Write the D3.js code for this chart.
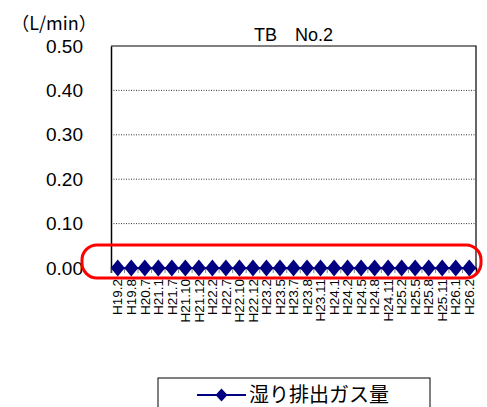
<!DOCTYPE html>
<html>
<head>
<meta charset="utf-8">
<script src="https://cdnjs.cloudflare.com/ajax/libs/d3/7.8.5/d3.min.js"></script>
<style>
  body { margin: 0; background: #fff; }
  svg { display: block; font-family: "Liberation Sans", Arial, sans-serif; }
</style>
</head>
<body>
<div id="chart"></div>
<script>
const categories = [
  "H19.2", "H19.8", "H20.7", "H21.1", "H21.7", "H21.10", "H21.12",
  "H22.2", "H22.7", "H22.10", "H22.12", "H23.2", "H23.5", "H23.7",
  "H23.8", "H23.11", "H24.1", "H24.2", "H24.5", "H24.8", "H24.11",
  "H25.2", "H25.5", "H25.8", "H25.11", "H26.1", "H26.2",
];
const gasValues = [
  0, 0, 0, 0, 0, 0, 0, 0, 0, 0, 0, 0, 0, 0,
  0, 0, 0, 0, 0, 0, 0, 0, 0, 0, 0, 0, 0,
];
const yTicks = [0, 0.1, 0.2, 0.3, 0.4, 0.5];
const seriesName = "湿り排出ガス量";
const chartTitle = "TB\u3000No.2";
const unitLabel = "（L/min）";

const width = 487,
  height = 407,
  margin = { top: 46, right: 11, bottom: 139, left: 111 },
  navy = "#000080";

const svg = d3
  .select("#chart")
  .append("svg")
  .attr("width", width)
  .attr("height", height);

const xScale = d3
  .scaleBand()
  .domain(categories)
  .range([margin.left, width - margin.right]);

const yScale = d3
  .scaleLinear()
  .domain([0, 0.5])
  .range([height - margin.bottom, margin.top]);

// dotted grid lines
svg
  .append("g")
  .selectAll("line")
  .data(yTicks.filter((d) => d > 0 && d < 0.5))
  .join("line")
  .attr("x1", margin.left)
  .attr("x2", width - margin.right)
  .attr("y1", (d) => yScale(d))
  .attr("y2", (d) => yScale(d))
  .attr("stroke", "#000")
  .attr("stroke-width", 0.8)
  .attr("stroke-dasharray", "1,1.5");

// plot frame (top + right)
svg
  .append("path")
  .attr(
    "d",
    `M${margin.left},${yScale(0.5)}H${width - margin.right}V${yScale(0)}`
  )
  .attr("fill", "none")
  .attr("stroke", "#000")
  .attr("stroke-width", 1.2);

// y axis
const yAxis = svg
  .append("g")
  .attr("transform", `translate(${margin.left},0)`)
  .call(
    d3
      .axisLeft(yScale)
      .tickValues(yTicks)
      .tickSize(0)
      .tickPadding(28)
      .tickFormat(d3.format(".2f"))
  );
yAxis.select(".domain").attr("stroke", "#000").attr("stroke-width", 1.5);
yAxis
  .selectAll("text")
  .attr("font-size", 19)
  .attr("fill", "#000")
  .attr("font-family", "Liberation Sans, Arial, sans-serif");

// x axis
const xAxis = svg
  .append("g")
  .attr("transform", `translate(0,${yScale(0)})`)
  .call(d3.axisBottom(xScale).tickSize(5).tickPadding(4));
xAxis.select(".domain").attr("stroke", "#000").attr("stroke-width", 1.5);
xAxis
  .selectAll(".tick line")
  .attr("stroke", "#888")
  .attr("x1", -xScale.bandwidth() / 2)
  .attr("x2", -xScale.bandwidth() / 2);
xAxis
  .selectAll(".tick text")
  .attr("font-size", 13.5)
  .attr("fill", "#000")
  .attr("font-family", "Liberation Sans, Arial, sans-serif")
  .attr("transform", "rotate(-90)")
  .attr("text-anchor", "end")
  .attr("x", -11)
  .attr("y", 0)
  .attr("dy", "0.35em");

// series line
const lineGenerator = d3
  .line()
  .x((d, i) => xScale(categories[i]) + xScale.bandwidth() / 2)
  .y((d) => yScale(d));

svg
  .append("path")
  .attr("d", lineGenerator(gasValues))
  .attr("fill", "none")
  .attr("stroke", navy)
  .attr("stroke-width", 2);

const diamond = (cx, cy, hw, hh) =>
  `M${cx},${cy - hh}L${cx + hw},${cy}L${cx},${cy + hh}L${cx - hw},${cy}Z`;

svg
  .append("g")
  .selectAll("path")
  .data(gasValues)
  .join("path")
  .attr("d", (d, i) =>
    diamond(xScale(categories[i]) + xScale.bandwidth() / 2, yScale(d), 7, 8.5)
  )
  .attr("fill", navy);

// title + unit
svg
  .append("text")
  .attr("x", (margin.left + width - margin.right) / 2)
  .attr("y", 41)
  .attr("text-anchor", "middle")
  .attr("font-size", 18)
  .attr("font-family", "Liberation Sans, Arial, sans-serif")
  .text(chartTitle);

svg
  .append("text")
  .attr("x", 54)
  .attr("y", 30)
  .attr("text-anchor", "middle")
  .attr("font-size", 18)
  .attr("font-family", "Noto Sans CJK JP, sans-serif")
  .text(unitLabel);

// red highlight
svg
  .append("rect")
  .attr("x", 82)
  .attr("y", 245)
  .attr("width", 399)
  .attr("height", 33)
  .attr("rx", 15)
  .attr("fill", "none")
  .attr("stroke", "#ff0000")
  .attr("stroke-width", 3);

// legend
const legend = svg.append("g");
legend
  .append("rect")
  .attr("x", 158)
  .attr("y", 378)
  .attr("width", 272)
  .attr("height", 40)
  .attr("fill", "#fff")
  .attr("stroke", "#000")
  .attr("stroke-width", 1);
legend
  .append("line")
  .attr("x1", 197)
  .attr("x2", 246)
  .attr("y1", 395)
  .attr("y2", 395)
  .attr("stroke", navy)
  .attr("stroke-width", 2);
legend.append("path").attr("d", diamond(221.5, 395, 6, 6.5)).attr("fill", navy);
legend
  .append("text")
  .attr("x", 249)
  .attr("y", 402)
  .attr("font-size", 20)
  .attr("font-family", "Noto Sans CJK JP, sans-serif")
  .text(seriesName);
</script>
</body>
</html>
